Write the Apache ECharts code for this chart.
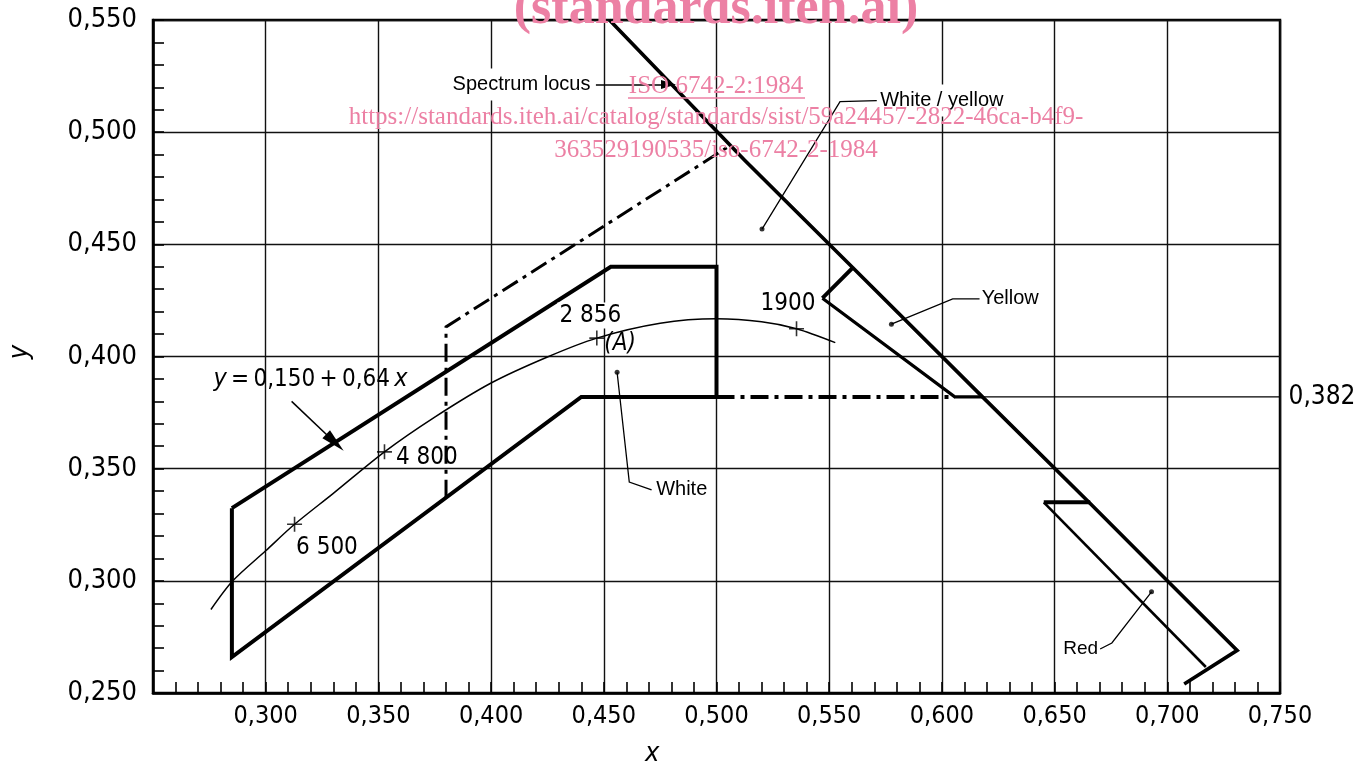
<!DOCTYPE html>
<html><head><meta charset="utf-8">
<script src="https://cdn.jsdelivr.net/npm/echarts@6/dist/echarts.min.js"></script>
<style>html,body{margin:0;padding:0;background:#fff}#c{width:1365px;height:769px}</style>
</head><body><div id="c"></div>
<script>
// ---------- data (chromaticity coordinates x, y) ----------
const xTickLabels = ['0,250','0,300','0,350','0,400','0,450','0,500','0,550','0,600','0,650','0,700','0,750'];
const yTickLabels = ['0,250','0,300','0,350','0,400','0,450','0,500','0,550'];

const spectrumLocus = [[0.4525,0.5500],[0.5125,0.4875],[0.5605,0.4396],[0.6180,0.3820],[0.6658,0.3345],[0.7000,0.3000],[0.7310,0.2690],[0.7075,0.2540]];
const whiteBoundary = [[0.2850,0.3324],[0.4531,0.4400],[0.5000,0.4400],[0.5000,0.3820],[0.4400,0.3820],[0.2850,0.2660],[0.2850,0.3324]];
const whiteYellowDashDot = [[0.3800,0.3370],[0.3800,0.4132],[0.5060,0.4940]];
const dashDot382 = [[0.5000,0.3820],[0.6057,0.3820]];
const yellowTop = [[0.5605,0.4396],[0.5470,0.4260]];
const yellowInner = [[0.5470,0.4260],[0.6057,0.3820],[0.6180,0.3820]];
const redTop = [[0.6658,0.3350],[0.6452,0.3350]];
const redInner = [[0.6452,0.3350],[0.7171,0.2616]];
const line382 = [[0.6180,0.3820],[0.7500,0.3820]];
const planckLocus = [[0.2757,0.2872],[0.2854,0.3000],[0.3000,0.3134],[0.3128,0.3252],[0.3300,0.3390],[0.3527,0.3575],[0.3750,0.3730],[0.4000,0.3882],[0.4250,0.3998],[0.4469,0.4082],[0.4750,0.4148],[0.5000,0.4168],[0.5200,0.4155],[0.5355,0.4124],[0.5527,0.4062]];
const planckMarks = [[0.3128,0.3252],[0.3527,0.3575],[0.4469,0.4082],[0.5355,0.4124]];
const planckNames = ['6 500','4 800','2 856','1900'];

const leaderWhiteYellow = [[0.5711,0.5141],[0.5548,0.5136],[0.5202,0.4568]];
const leaderYellow = [[0.6167,0.4257],[0.6048,0.4257],[0.5776,0.4144]];
const leaderWhite = [[0.4559,0.3930],[0.4613,0.3440],[0.4712,0.3405]];
const leaderRed = [[0.6702,0.2696],[0.6754,0.2723],[0.6930,0.2951]];
const leaderDots = [[0.5202,0.4568],[0.5776,0.4144],[0.4559,0.3930],[0.6930,0.2951]];

const arrowSpectrum = [[0.4465,0.5213],[0.4787,0.5213]];
const arrowEquation = [[0.3115,0.3800],[0.3307,0.3617]];

// ---------- styles ----------
const DIN = "'DejaVu Sans Condensed','Liberation Sans Narrow','DejaVu Sans',sans-serif";
const HEL = "'Liberation Sans',Arial,sans-serif";
const SERIF = "'Liberation Serif','Times New Roman',serif";
const PINK = '#ec80a4';

function poly(name, data, width, type, extra) {
  return Object.assign({
    name, type: 'line', data, symbol: 'none', animation: false, silent: true, z: 3,
    lineStyle: { color: '#000', width, type: type || 'solid', cap: 'butt', join: 'miter' }
  }, extra || {});
}
function arrow(name, pts, size, width) {
  return {
    name, type: 'line', data: [], animation: false, silent: true,
    markLine: {
      silent: true, animation: false, symbol: ['none', 'triangle'], symbolSize: size,
      itemStyle: { color: '#000' },
      label: { show: false }, lineStyle: { color: '#000', width, type: 'solid' },
      data: [[{ coord: pts[0] }, { coord: pts[1] }]]
    }
  };
}
function txt(value, text, opts) {
  return { value, label: Object.assign({ show: true, formatter: text, color: '#000', opacity: 1 }, opts) };
}

const annotationData = [
  txt([0.4456,0.5213], 'Spectrum locus', { position: 'left', distance: 0, fontFamily: HEL, fontSize: 20, backgroundColor: '#fff', padding: [6, 3] }),
  txt([0.5715,0.5141], 'White / yellow', { position: 'right', distance: 0, fontFamily: HEL, fontSize: 20, backgroundColor: '#fff', padding: [6, 2] }),
  txt([0.6170,0.4257], 'Yellow', { position: 'right', distance: 1, fontFamily: HEL, fontSize: 20 }),
  txt([0.4730,0.3405], 'White', { position: 'right', distance: 0, fontFamily: HEL, fontSize: 20 }),
  txt([0.6700,0.2696], 'Red', { position: 'left', distance: 1, fontFamily: HEL, fontSize: 19 }),
  txt([0.7500,0.3820], '0,382', { position: 'right', distance: 8, fontFamily: DIN, fontSize: 26 }),
  txt([0.2766,0.3898], '{i|y}\u2009=\u20090,150\u2009+\u20090,64\u2009{i|x}', { position: 'right', distance: 0, fontFamily: DIN, fontSize: 24,
      rich: { i: { fontStyle: 'italic', fontFamily: DIN, fontSize: 25 } } }),
  txt(planckMarks[0], planckNames[0], { position: [2, 12], align: 'left', verticalAlign: 'top', fontFamily: DIN, fontSize: 24 }),
  txt(planckMarks[1], planckNames[1], { position: [12, -6], align: 'left', verticalAlign: 'top', fontFamily: DIN, fontSize: 24 }),
  txt(planckMarks[2], planckNames[2], { position: [-6, -22], align: 'center', verticalAlign: 'middle', fontFamily: DIN, fontSize: 24, backgroundColor: '#fff', padding: [1, 2] }),
  txt(planckMarks[2], '(A)', { position: [8, 6], align: 'left', verticalAlign: 'middle', fontFamily: DIN, fontSize: 24, fontStyle: 'italic' }),
  txt(planckMarks[3], planckNames[3], { position: [-8, -24], align: 'center', verticalAlign: 'middle', fontFamily: DIN, fontSize: 24 })
];

const chart = echarts.init(document.getElementById('c'), null, { renderer: 'canvas' });
const axisCommon = {
  type: 'value', interval: 0.05, scale: false,
  axisLine: { show: true, onZero: false, lineStyle: { color: '#000', width: 2.5 } },
  axisTick: { show: true, inside: true, length: 11, lineStyle: { color: '#000', width: 1.6 } },
  minorTick: { show: true, splitNumber: 5, length: 11, lineStyle: { color: '#000', width: 1.6 } },
  splitLine: { show: true, lineStyle: { color: '#111', width: 1.4 } },
  minorSplitLine: { show: false }
};

chart.setOption({
  backgroundColor: '#fff',
  animation: false,
  grid: { left: 153, right: 85, top: 20, bottom: 76, show: true, borderColor: '#000', borderWidth: 2.5, backgroundColor: 'transparent' },
  xAxis: Object.assign({}, axisCommon, {
    min: 0.25, max: 0.75,
    axisLabel: { margin: 11, color: '#000', fontFamily: DIN, fontSize: 25,
      formatter: v => { const i = Math.round((v - 0.25) / 0.05); return i === 0 ? '' : xTickLabels[i]; } }
  }),
  yAxis: Object.assign({}, axisCommon, {
    min: 0.25, max: 0.55,
    axisLabel: { margin: 16, color: '#000', fontFamily: DIN, fontSize: 27,
      formatter: v => yTickLabels[Math.round((v - 0.25) / 0.05)] }
  }),
  graphic: [
    { type: 'text', left: 6, top: 345, rotation: Math.PI / 2, style: { text: 'y', font: 'italic 27px ' + DIN, fill: '#000' } },
    { type: 'text', left: 645, top: 740, style: { text: 'x', font: 'italic 27px ' + DIN, fill: '#000' } },
    { type: 'text', z: 100, style: { x: 716, y: 10, text: '(standards.iteh.ai)', font: 'bold 52px ' + SERIF, fill: PINK, align: 'center', verticalAlign: 'middle' } },
    { type: 'text', z: 100, style: { x: 716, y: 86, text: 'ISO 6742-2:1984', font: '25px ' + SERIF, fill: PINK, align: 'center', verticalAlign: 'middle' } },
    { type: 'line', z: 100, shape: { x1: 628, y1: 98, x2: 805, y2: 98 }, style: { stroke: PINK, lineWidth: 1.4 } },
    { type: 'text', z: 100, style: { x: 716, y: 117, text: 'https://standards.iteh.ai/catalog/standards/sist/59a24457-2822-46ca-b4f9-', font: '25px ' + SERIF, fill: PINK, align: 'center', verticalAlign: 'middle' } },
    { type: 'text', z: 100, style: { x: 716, y: 150, text: '363529190535/iso-6742-2-1984', font: '25px ' + SERIF, fill: PINK, align: 'center', verticalAlign: 'middle' } }
  ],
  series: [
    poly('planck', planckLocus, 1.5, 'solid', { smooth: 0.3, z: 2 }),
    poly('locus', spectrumLocus, 3.6),
    poly('white', whiteBoundary, 4),
    poly('whiteYellow', whiteYellowDashDot, 3, [18, 6, 4, 6]),
    poly('dashDot382', dashDot382, 4, [18, 6, 4, 6]),
    poly('yellowTop', yellowTop, 4),
    poly('yellowInner', yellowInner, 3.2),
    poly('redTop', redTop, 4),
    poly('redInner', redInner, 2.6),
    poly('line382', line382, 1.4),
    poly('leaderWY', leaderWhiteYellow, 1.3),
    poly('leaderY', leaderYellow, 1.3),
    poly('leaderW', leaderWhite, 1.3),
    poly('leaderR', leaderRed, 1.3),
    { name: 'dots', type: 'scatter', data: leaderDots, symbol: 'circle', symbolSize: 5, itemStyle: { color: '#000' }, silent: true, animation: false, z: 4 },
    { name: 'plus', type: 'scatter', data: planckMarks, symbol: 'path://M5,0L5,10M0,5L10,5', symbolSize: 15,
      itemStyle: { color: 'transparent', borderColor: '#000', borderWidth: 1.6 }, silent: true, animation: false, z: 4 },
    arrow('arrowSpectrum', arrowSpectrum, [9, 15], 1.5),
    arrow('arrowEquation', arrowEquation, [11, 24], 1.5),
    { name: 'text', type: 'scatter', data: annotationData, symbolSize: 1, itemStyle: { color: 'transparent' }, silent: true, animation: false, z: 6, clip: false }
  ]
});
</script></body></html>
